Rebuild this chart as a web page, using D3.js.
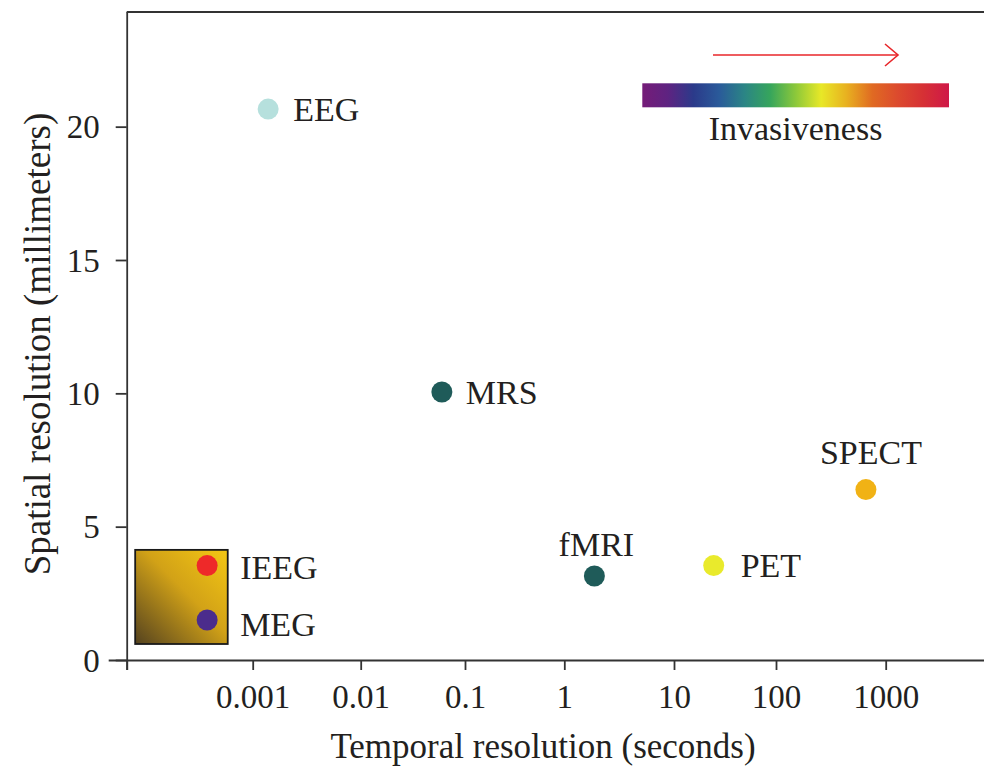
<!DOCTYPE html>
<html>
<head>
<meta charset="utf-8">
<script src="https://cdn.jsdelivr.net/npm/d3@7"></script>
<style>
  body { margin: 0; background: #fff; }
  text { font-family: "Liberation Serif", "DejaVu Serif", serif; fill: #231f20; }
</style>
</head>
<body>
<script>
// modalities and their resolutions
const modalities = ["EEG", "MRS", "fMRI", "PET", "SPECT", "IEEG", "MEG"];
const temporal = [0.00139, 0.060, 1.88, 24.5, 660, 0.00037, 0.00037];   // seconds
const spatial  = [20.66, 10.05, 3.15, 3.54, 6.39, 3.54, 1.5];          // millimeters
const colors   = ["#b6e0dd", "#1f5b59", "#1f5b59", "#e9ea2c", "#f1b215", "#ee2929", "#4b2c8c"];

const xTickValues = [0.001, 0.01, 0.1, 1, 10, 100, 1000];
const xTickLabels = ["0.001", "0.01", "0.1", "1", "10", "100", "1000"];
const yTickValues = [0, 5, 10, 15, 20];

// shaded box behind IEEG / MEG
const boxX = [0.000077, 0.00058];
const boxY = [0.6, 4.13];

// invasiveness colour ramp
const rampColors = ["#751c78", "#5e2381", "#2b3a8a", "#2a5a9a", "#2b8585", "#36a55c", "#8cc83a",
                    "#e8e827", "#e8b020", "#e06a22", "#dc4a2e", "#d63035", "#cf1848"];

const W = 984, H = 772;
const mLeft = 126.7, mRight = 984, mTop = 12, mBottom = 660;

const svg = d3.select("body").append("svg")
  .attr("width", W)
  .attr("height", H);

// the axis in the original is hand-spaced, so a polylinear log scale
const x = d3.scaleLog()
  .domain([0.000064, 0.001, 0.01, 0.1, 1, 10, 100, 1000, 8500])
  .range([mLeft, 252.7, 360.7, 465, 564.3, 674, 776, 885.7, mRight]);

const y = d3.scaleLinear()
  .domain([0, 24.3])
  .range([mBottom, mTop]);

const defs = svg.append("defs");

const boxGrad = defs.append("linearGradient")
  .attr("id", "boxGrad")
  .attr("x1", "0%").attr("y1", "100%")
  .attr("x2", "100%").attr("y2", "0%");
boxGrad.append("stop").attr("offset", "0%").attr("stop-color", "#54421f");
boxGrad.append("stop").attr("offset", "55%").attr("stop-color", "#d2a217");
boxGrad.append("stop").attr("offset", "100%").attr("stop-color", "#f4c714");

const rampGrad = defs.append("linearGradient")
  .attr("id", "rampGrad")
  .attr("x1", "0%").attr("x2", "100%");
rampGrad.selectAll("stop")
  .data(rampColors)
  .enter().append("stop")
    .attr("offset", (d, i) => (i / (rampColors.length - 1) * 100) + "%")
    .attr("stop-color", d => d);

// frame top line
svg.append("line")
  .attr("x1", mLeft).attr("x2", mRight)
  .attr("y1", mTop).attr("y2", mTop)
  .attr("stroke", "#333").attr("stroke-width", 1.8);

// x axis
const xAxis = svg.append("g")
  .attr("transform", `translate(0,${mBottom})`)
  .call(d3.axisBottom(x)
    .tickValues([0.000064].concat(xTickValues))
    .tickFormat(d => { const i = xTickValues.indexOf(d); return i < 0 ? "" : xTickLabels[i]; })
    .tickSize(10)
    .tickSizeOuter(0)
    .tickPadding(16));
xAxis.select(".domain").attr("d", `M${mLeft - 18},0.5H${mRight}`);

// y axis
const yAxis = svg.append("g")
  .attr("transform", `translate(${mLeft},0)`)
  .call(d3.axisLeft(y)
    .tickValues(yTickValues)
    .tickSize(11)
    .tickSizeOuter(0)
    .tickPadding(16));
yAxis.select(".domain").attr("d", `M0.5,${mTop}V${mBottom + 10}`);

svg.selectAll(".domain, .tick line")
  .attr("stroke", "#333")
  .attr("stroke-width", 1.8);
svg.selectAll(".tick text")
  .attr("font-size", "33px")
  .attr("font-family", "Liberation Serif, serif")
  .attr("fill", "#231f20");
xAxis.selectAll(".tick text").attr("dy", "0.68em");
yAxis.selectAll(".tick text").attr("dy", "0.34em");

// axis titles
svg.append("text")
  .attr("x", 543)
  .attr("y", 758)
  .attr("text-anchor", "middle")
  .attr("font-size", "35px")
  .text("Temporal resolution (seconds)");

svg.append("text")
  .attr("transform", "translate(50,344) rotate(-90)")
  .attr("text-anchor", "middle")
  .attr("font-size", "37px")
  .text("Spatial resolution (millimeters)");

// shaded box
svg.append("rect")
  .attr("x", x(boxX[0]))
  .attr("y", y(boxY[1]))
  .attr("width", x(boxX[1]) - x(boxX[0]))
  .attr("height", y(boxY[0]) - y(boxY[1]))
  .attr("fill", "url(#boxGrad)")
  .attr("stroke", "#1a1a1a")
  .attr("stroke-width", 1.8);

// points
const pts = modalities.map((m, i) => ({ name: m, t: temporal[i], s: spatial[i], c: colors[i] }));

svg.selectAll("circle.pt")
  .data(pts)
  .enter()
    .append("circle")
      .attr("class", "pt")
      .attr("cx", d => x(d.t))
      .attr("cy", d => y(d.s))
      .attr("r", 10.5)
      .attr("fill", d => d.c);

// labels: offsets from the dot
const labelPos = {
  EEG:   { dx: 25, dy: 12, anchor: "start" },
  MRS:   { dx: 24, dy: 12, anchor: "start" },
  fMRI:  { dx: 2,  dy: -20, anchor: "middle" },
  PET:   { dx: 27, dy: 11, anchor: "start" },
  SPECT: { dx: 5,  dy: -26, anchor: "middle" },
  IEEG:  { dx: 33, dy: 13, anchor: "start" },
  MEG:   { dx: 33, dy: 16, anchor: "start" }
};

svg.selectAll("text.lbl")
  .data(pts)
  .enter()
    .append("text")
      .attr("class", "lbl")
      .attr("x", d => x(d.t) + labelPos[d.name].dx)
      .attr("y", d => y(d.s) + labelPos[d.name].dy)
      .attr("text-anchor", d => labelPos[d.name].anchor)
      .attr("font-size", "34px")
      .text(d => d.name);

// invasiveness legend
svg.append("rect")
  .attr("x", 642.3).attr("y", 83.3)
  .attr("width", 306.7).attr("height", 24)
  .attr("fill", "url(#rampGrad)");

svg.append("text")
  .attr("x", 795.5).attr("y", 140)
  .attr("text-anchor", "middle")
  .attr("font-size", "34px")
  .text("Invasiveness");

svg.append("line")
  .attr("x1", 713).attr("x2", 897)
  .attr("y1", 55).attr("y2", 55)
  .attr("stroke", "#e8262a").attr("stroke-width", 1.6);
svg.append("path")
  .attr("d", "M885,44L898,55L885,66")
  .attr("fill", "none")
  .attr("stroke", "#e8262a").attr("stroke-width", 1.6);
</script>
</body>
</html>
